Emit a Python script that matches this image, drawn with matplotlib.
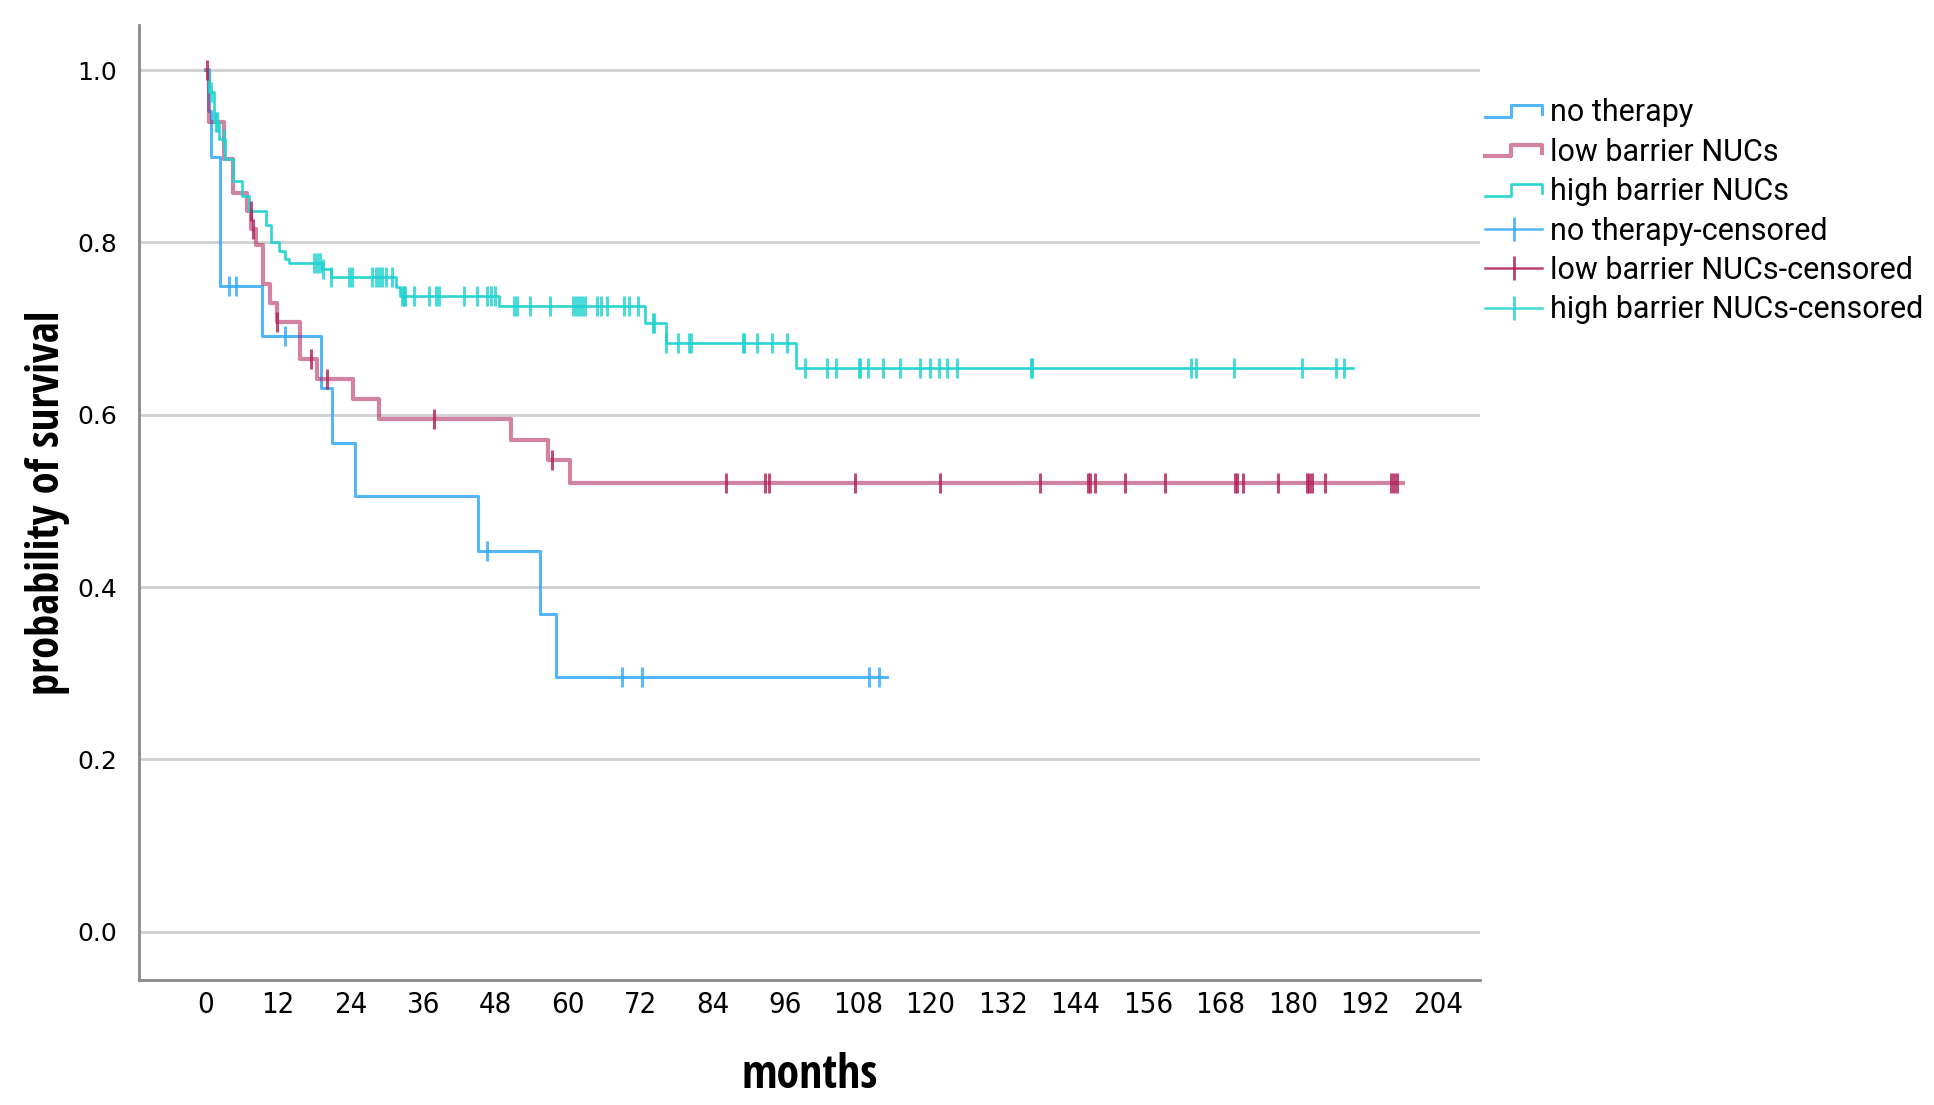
import numpy as np
import matplotlib
matplotlib.use('Agg')
import matplotlib.pyplot as plt
from matplotlib.lines import Line2D
from matplotlib.legend_handler import HandlerBase

# no therapy
nt_times = [0, 0.4, 0.9, 2.4, 9.3, 19.2, 21.0, 24.8, 45.1, 55.3, 58.1]
nt_surv = [1.0, 0.952, 0.899, 0.749, 0.692, 0.631, 0.567, 0.506, 0.442, 0.369, 0.296]
nt_end = 112.9
nt_cens = [3.9, 5.1, 13.2, 46.6, 68.9, 72.3, 109.8, 111.5]

# low barrier NUCs
lb_times = [0, 0.6, 3.0, 4.6, 6.9, 7.6, 8.3, 9.6, 10.6, 11.9, 15.6, 18.5,
            24.4, 28.7, 50.5, 56.7, 60.3]
lb_surv = [1.0, 0.940, 0.897, 0.857, 0.837, 0.816, 0.797, 0.752, 0.730, 0.708,
           0.665, 0.642, 0.618, 0.595, 0.571, 0.547, 0.521]
lb_end = 198.3
lb_cens = [0.3, 7.5, 7.9, 11.9, 17.5, 20.1, 37.8, 57.4, 86.1, 92.6, 93.3, 107.6,
           121.6, 138.1, 146.1, 146.5, 147.2, 152.2, 158.9, 170.4, 170.8, 171.7,
           177.6, 182.3, 182.7, 183.1, 185.3, 196.3, 196.7, 197.2]

# high barrier NUCs
hb_times = [0, 0.6, 1.4, 2.2, 3.3, 4.6, 6.1, 7.2, 10.0, 10.8, 12.1, 13.2, 13.8,
            19.3, 20.7, 31.5, 32.2, 48.6, 72.8, 76.3, 97.8]
hb_surv = [1.0, 0.975, 0.940, 0.920, 0.897, 0.871, 0.854, 0.837, 0.820, 0.801,
           0.790, 0.781, 0.776, 0.769, 0.760, 0.748, 0.738, 0.726, 0.706, 0.683, 0.654]
hb_end = 189.9
hb_cens = [0.9, 1.7, 1.9, 3.0, 17.9, 18.4, 18.9, 19.5, 20.8, 23.7, 24.3, 27.6,
           28.2, 28.7, 29.2, 29.9, 30.9, 32.6, 32.8, 33.1, 34.5, 37.0, 38.1, 38.6,
           42.8, 45.0, 46.6, 47.2, 48.0, 51.0, 51.6, 53.7, 57.0, 60.8, 61.3, 61.8,
           62.3, 62.9, 64.8, 65.4, 66.5, 69.3, 70.1, 71.6, 74.0, 74.2, 76.3, 78.2,
           80.0, 80.3, 89.0, 89.1, 91.3, 93.7, 96.2, 99.3, 102.9, 104.3, 108.2,
           108.4, 109.7, 112.2, 114.9, 118.3, 120.0, 121.4, 122.8, 124.4, 136.6,
           136.9, 163.2, 163.9, 170.3, 181.5, 187.1, 188.4]

x_ticks = list(range(0, 205, 12))
y_ticks = [0.0, 0.2, 0.4, 0.6, 0.8, 1.0]

groups = [
    ('no therapy', nt_times, nt_surv, nt_end, nt_cens, '#35a9fb', 2.2, 0.85),
    ('low barrier NUCs', lb_times, lb_surv, lb_end, lb_cens, '#b01e57', 3.0, 0.55),
    ('high barrier NUCs', hb_times, hb_surv, hb_end, hb_cens, '#1fd3cf', 1.9, 0.95),
]

narrow = ['Liberation Sans Narrow', 'Open Sans Condensed', 'DejaVu Sans']
narrow_reg = ['Noto Sans Condensed', 'DejaVu Sans']


def km_level(times, surv, t):
    idx = np.searchsorted(times, t, side='right') - 1
    return np.asarray(surv)[idx]


class StepHandler(HandlerBase):
    # little step glyph like the SPSS legend
    def create_artists(self, legend, orig_handle, xdescent, ydescent,
                       width, height, fontsize, trans):
        xs = np.array([0.0, 0.45, 0.45, 1.0, 1.0]) * width - xdescent
        ys = np.array([0.2, 0.2, 0.75, 0.75, 0.35]) * height - ydescent
        ln = Line2D(xs, ys, color=orig_handle.get_color(),
                    lw=orig_handle.get_linewidth(), alpha=orig_handle.get_alpha())
        ln.set_transform(trans)
        return [ln]


fig = plt.figure(figsize=(19.34, 11.05), dpi=100)
ax = fig.add_axes([0.0719, 0.1131, 0.6934, 0.864])

step_handles = []
cens_handles = []
for name, t, s, end, cens, col, lw, alpha in groups:
    ax.step(t + [end], s + [s[-1]], where='post', color=col, lw=lw, alpha=alpha, zorder=3)
    ax.plot(cens, km_level(t, s, cens), linestyle='none', marker='|', ms=14,
            mew=2.2, color=col, alpha=0.8, zorder=4)
    step_handles.append(Line2D([], [], color=col, lw=lw, alpha=alpha, label=name))
    cens_handles.append(Line2D([], [], color=col, lw=1.8, alpha=0.85, marker='|',
                               ms=17, mew=2.0, label=name + '-censored'))

ax.set_xlim(-11, 211)
ax.set_ylim(-0.056, 1.052)
ax.set_xticks(x_ticks)
ax.set_xticklabels([str(v) for v in x_ticks], family=narrow_reg, stretch='condensed',
                   fontsize=21)
ax.set_yticks(y_ticks)
ax.set_yticklabels(['%.1f' % v for v in y_ticks], family='DejaVu Sans', fontsize=18)
ax.tick_params(axis='x', length=0, pad=8)
ax.tick_params(axis='y', length=0, pad=16)

ax.yaxis.grid(True, color='#d0d0d0', lw=2.0)
ax.set_axisbelow(True)
for side in ['top', 'right']:
    ax.spines[side].set_visible(False)
for side in ['left', 'bottom']:
    ax.spines[side].set_color('#8a8a8a')
    ax.spines[side].set_linewidth(2.0)

ax.set_xlabel('months', family=narrow, stretch='condensed', fontsize=33,
              fontweight='bold', labelpad=24)
ax.set_ylabel('probability of survival', family=narrow, stretch='condensed',
              fontsize=32, fontweight='bold', labelpad=5)

handles = step_handles + cens_handles
hmap = {h: StepHandler() for h in step_handles}
fig.legend(handles=handles, loc='upper left', bbox_to_anchor=(0.768, 0.911),
           frameon=False, prop={'family': 'Roboto', 'size': 22},
           handlelength=1.85, handletextpad=0.28, labelspacing=0.34,
           borderpad=0, borderaxespad=0, handler_map=hmap)

plt.savefig('out.png', dpi=100)
